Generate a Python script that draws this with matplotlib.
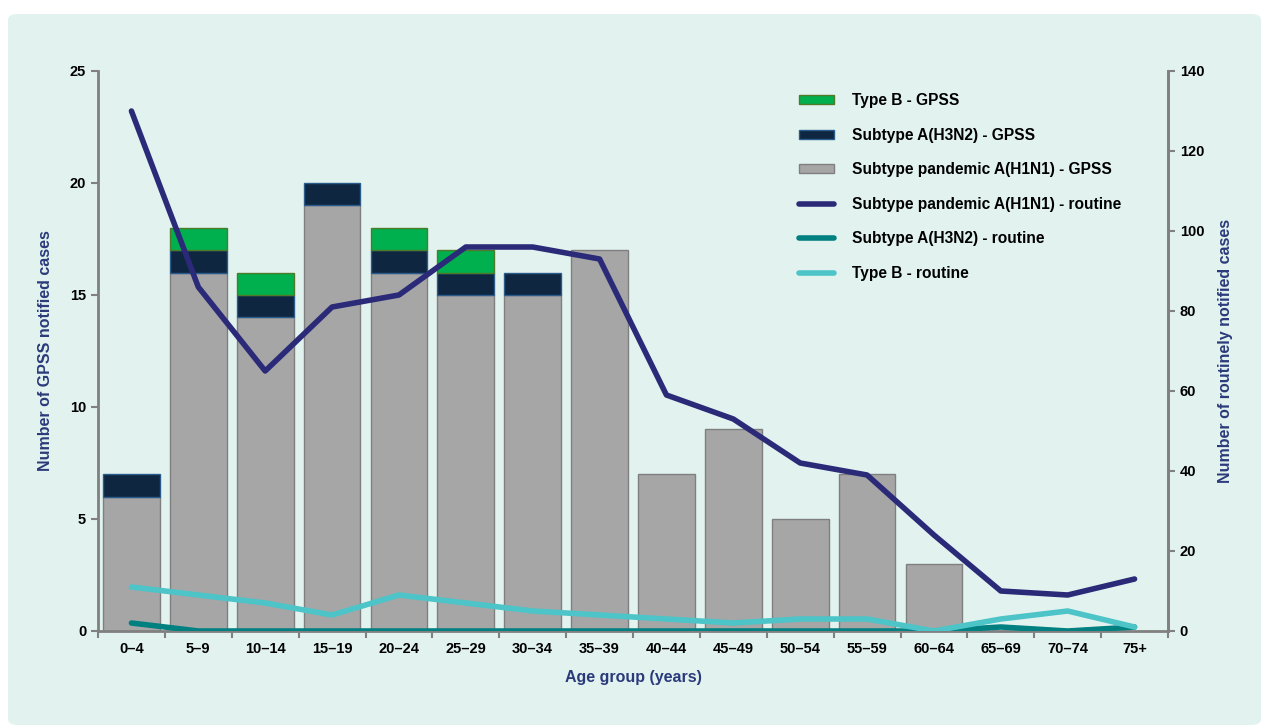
import matplotlib
matplotlib.use("Agg")
import matplotlib.pyplot as plt
import numpy as np
from matplotlib.patches import FancyBboxPatch, Patch
from matplotlib.lines import Line2D

plt.rcParams['font.family'] = ['Liberation Sans', 'DejaVu Sans']

# data
ages = ["0–4", "5–9", "10–14", "15–19", "20–24", "25–29", "30–34", "35–39",
        "40–44", "45–49", "50–54", "55–59", "60–64", "65–69", "70–74", "75+"]
h1n1_gpss = [6, 16, 14, 19, 16, 15, 15, 17, 7, 9, 5, 7, 3, 0, 0, 0]
h3n2_gpss = [1, 1, 1, 1, 1, 1, 1, 0, 0, 0, 0, 0, 0, 0, 0, 0]
b_gpss = [0, 1, 1, 0, 1, 1, 0, 0, 0, 0, 0, 0, 0, 0, 0, 0]
h1n1_routine = [130, 86, 65, 81, 84, 96, 96, 93, 59, 53, 42, 39, 24, 10, 9, 13]
h3n2_routine = [2, 0, 0, 0, 0, 0, 0, 0, 0, 0, 0, 0, 0, 1, 0, 1]
b_routine = [11, 9, 7, 4, 9, 7, 5, 4, 3, 2, 3, 3, 0, 3, 5, 1]

c_grey = "#a6a6a6"
c_h3 = "#0e2640"
c_b = "#00b04f"
c_line1 = "#2b2a78"
c_line2 = "#008080"
c_line3 = "#4cc4c8"
c_lab = "#2b3a7a"
c_spine = "#808080"

fig = plt.figure(figsize=(12.61, 7.25), dpi=100)
bg = FancyBboxPatch((8/1261, 0), 1 - 8/1261, 1 - 14/725, boxstyle="round,pad=0,rounding_size=0.008",
                    transform=fig.transFigure, facecolor="#e2f3ef", edgecolor="none", zorder=-10)
fig.patches.append(bg)

ax = fig.add_axes([98/1261, 1 - 631/725, (1168-98)/1261, (631-71)/725])
ax.set_facecolor("none")
x = np.arange(len(ages))
w = 0.85
h1 = np.array(h1n1_gpss)
h3 = np.array(h3n2_gpss)
bb = np.array(b_gpss)
# draw only non-zero segments so empty bars leave no edge lines
m1, m3, mb = h1 > 0, h3 > 0, bb > 0
ax.bar(x[m1], h1[m1], w, color=c_grey, edgecolor="#7f7f7f", linewidth=1)
ax.bar(x[m3], h3[m3], w, bottom=h1[m3], color=c_h3, edgecolor="#2a5b8a", linewidth=1)
ax.bar(x[mb], bb[mb], w, bottom=(h1 + h3)[mb], color=c_b, edgecolor="#4f7a2a", linewidth=1)
ax.set_xlim(-0.5, len(ages) - 0.5)
ax.set_ylim(0, 25)
ax.set_yticks(range(0, 26, 5))
ax.set_xticks(x)
ax.set_xticklabels(ages)
ax.set_xticks(np.arange(-0.5, len(ages), 1), minor=True)
ax.tick_params(axis="x", which="major", length=0, pad=8)
ax.tick_params(axis="x", which="minor", length=5, color=c_spine, width=1.5)
ax.tick_params(axis="y", length=5, color=c_spine, width=1.5)
ax.spines["top"].set_visible(False)
for s in ["left", "right", "bottom"]:
    ax.spines[s].set_color(c_spine)
    ax.spines[s].set_linewidth(2)
ax.set_ylabel("Number of GPSS notified cases", fontsize=11.5, fontweight="bold", color=c_lab, labelpad=12)
ax.set_xlabel("Age group (years)", fontsize=11.5, fontweight="bold", color=c_lab, labelpad=10)
for lab in ax.get_xticklabels() + ax.get_yticklabels():
    lab.set_fontweight("bold")
    lab.set_fontsize(10.5)

ax2 = ax.twinx()
ax2.plot(x, h1n1_routine, color=c_line1, linewidth=4, solid_capstyle="round")
ax2.plot(x, h3n2_routine, color=c_line2, linewidth=4, solid_capstyle="round")
ax2.plot(x, b_routine, color=c_line3, linewidth=4, solid_capstyle="round")
ax2.set_ylim(0, 140)
ax2.set_yticks(range(0, 141, 20))
ax2.tick_params(axis="y", length=5, color=c_spine, width=1.5)
for s in ["top", "left", "bottom"]:
    ax2.spines[s].set_visible(False)
ax2.spines["right"].set_color(c_spine)
ax2.spines["right"].set_linewidth(2)
ax2.set_ylabel("Number of routinely notified cases", fontsize=11.5, fontweight="bold", color=c_lab, labelpad=10)
for lab in ax2.get_yticklabels():
    lab.set_fontweight("bold")
    lab.set_fontsize(10.5)

handles = [
    Patch(facecolor=c_b, edgecolor="#4f7a2a", label="Type B - GPSS"),
    Patch(facecolor=c_h3, edgecolor="#2a5b8a", label="Subtype A(H3N2) - GPSS"),
    Patch(facecolor=c_grey, edgecolor="#7f7f7f", label="Subtype pandemic A(H1N1) - GPSS"),
    Line2D([], [], color=c_line1, linewidth=4, solid_capstyle="round", label="Subtype pandemic A(H1N1) - routine"),
    Line2D([], [], color=c_line2, linewidth=4, solid_capstyle="round", label="Subtype A(H3N2) - routine"),
    Line2D([], [], color=c_line3, linewidth=4, solid_capstyle="round", label="Type B - routine"),
]
leg = ax2.legend(handles=handles, loc="upper left", bbox_to_anchor=(0.6425, 0.985), frameon=False,
                 prop={"weight": "bold", "size": 11.2}, labelspacing=1.25, handlelength=2.25,
                 handleheight=0.5, handletextpad=1.15)

fig.savefig("out.png", dpi=100, facecolor="white")
